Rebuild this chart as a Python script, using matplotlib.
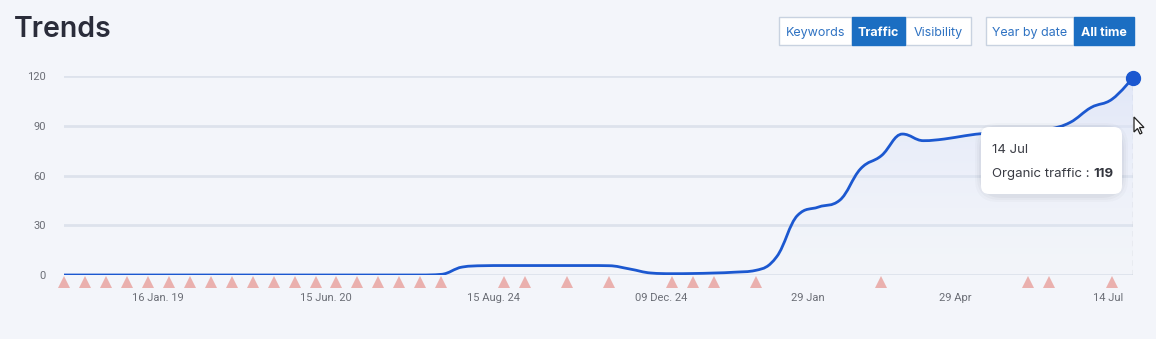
import numpy as np
import matplotlib.pyplot as plt
from matplotlib.path import Path
from matplotlib.patches import PathPatch, FancyBboxPatch, Rectangle, Polygon
from matplotlib.colors import LinearSegmentedColormap

plt.rcParams['font.family'] = ['Inter', 'DejaVu Sans']

# organic traffic, one value per point (52 points)
traffic = [0, 0, 0, 0, 0, 0, 0, 0, 0, 0, 0, 0, 0, 0, 0, 0, 0, 0,
           0.4, 4.8, 5.6, 5.7, 5.7, 5.7, 5.7, 5.7, 5.6, 3.6, 1.2, 0.8,
           0.9, 1.2, 1.7, 2.8, 11, 36, 41, 45, 64, 72, 85, 81,
           82, 84, 85.5, 86, 87, 88, 92, 101, 106, 119]
# points that carry an event marker (triangles under the axis)
event_idx = list(range(19)) + [21, 22, 24, 26, 29, 30, 31, 33, 39, 46, 47, 50]
x_tick_pos = [4.5, 12.5, 20.5, 28.5, 35.5, 42.5, 49.8]
x_tick_labels = ['16 Jan. 19', '15 Jun. 20', '15 Aug. 24', '09 Dec. 24',
                 '29 Jan', '29 Apr', '14 Jul']
y_ticks = [0, 30, 60, 90, 120]
tooltip_date = '14 Jul'
tooltip_value = 119

W, H = 1156, 339
BG = '#f3f5fa'
LINE = '#1c58d0'
GRID = '#dde2ec'
BLUE_BTN = '#1b6ec2'

fig = plt.figure(figsize=(W / 100, H / 100), dpi=100, facecolor=BG)


def fx(x):
    return x / W


def fy(y):
    return 1 - y / H


ax = fig.add_axes([fx(64), fy(275), (1133 - 64) / W, (275 - 76) / H])
ax.set_facecolor(BG)
for s in ax.spines.values():
    s.set_visible(False)

n = len(traffic)
xs = np.arange(n, dtype=float)
ys = np.array(traffic, dtype=float)
ax.set_xlim(0, n - 1)
ax.set_ylim(0, 120)


# spline path (highcharts style)
def spline_path(x, y, smoothing=1.5):
    denom = smoothing + 1
    lc = [(x[0], y[0])]
    rc = [(x[0], y[0])]
    for i in range(1, len(x) - 1):
        lx = (smoothing * x[i] + x[i - 1]) / denom
        ly = (smoothing * y[i] + y[i - 1]) / denom
        rx = (smoothing * x[i] + x[i + 1]) / denom
        ry = (smoothing * y[i] + y[i + 1]) / denom
        corr = (ry - ly) * (rx - x[i]) / (rx - lx) + y[i] - ry
        ly += corr
        ry += corr
        if ly > y[i - 1] and ly > y[i]:
            ly = max(y[i - 1], y[i]); ry = 2 * y[i] - ly
        elif ly < y[i - 1] and ly < y[i]:
            ly = min(y[i - 1], y[i]); ry = 2 * y[i] - ly
        if ry > y[i + 1] and ry > y[i]:
            ry = max(y[i + 1], y[i]); ly = 2 * y[i] - ry
        elif ry < y[i + 1] and ry < y[i]:
            ry = min(y[i + 1], y[i]); ly = 2 * y[i] - ry
        lc.append((lx, ly))
        rc.append((rx, ry))
    lc.append((x[-1], y[-1]))
    rc.append((x[-1], y[-1]))
    verts = [(x[0], y[0])]
    codes = [Path.MOVETO]
    for i in range(1, len(x)):
        verts += [rc[i - 1], lc[i], (x[i], y[i])]
        codes += [Path.CURVE4] * 3
    return verts, codes


verts, codes = spline_path(xs, ys)

for yt in y_ticks:
    ax.axhline(yt, color=GRID, lw=2, zorder=0.5)

# area fill with a vertical gradient
fill_verts = verts + [(xs[-1], 0), (xs[0], 0), (xs[0], ys[0])]
fill_codes = codes + [Path.LINETO, Path.LINETO, Path.CLOSEPOLY]
fill_patch = PathPatch(Path(fill_verts, fill_codes), facecolor='none',
                       edgecolor='none')
ax.add_patch(fill_patch)
grad_cmap = LinearSegmentedColormap.from_list('g', [(0.91, 0.93, 0.98, 0.0),
                                                    (0.86, 0.89, 0.97, 0.75)])
grad = np.linspace(0, 1, 256).reshape(-1, 1)
im = ax.imshow(grad, cmap=grad_cmap, aspect='auto', origin='lower',
               extent=[0, n - 1, 0, 120], zorder=1, interpolation='bilinear')
im.set_clip_path(fill_patch)

ax.add_patch(PathPatch(Path(verts, codes), facecolor='none', edgecolor=LINE,
                       lw=2, zorder=3, capstyle='round'))

# crosshair + hovered point
ax.axvline(xs[-1], color='#c4c8d0', lw=1, ls=(0, (4, 3)), zorder=2)
ax.plot([xs[-1]], [ys[-1]], 'o', color=LINE, ms=10, zorder=4, clip_on=False)

# event triangles
ax.plot(xs[event_idx], np.full(len(event_idx), -4.0), '^', color='#eab0ae',
        ms=8.5, mew=0, clip_on=False, zorder=2)

ax.set_yticks(y_ticks)
ax.set_yticklabels([str(v) for v in y_ticks])
ax.set_xticks(x_tick_pos)
ax.set_xticklabels(x_tick_labels)
ax.tick_params(axis='y', length=0, pad=13, labelsize=8, labelcolor='#6b6e76')
ax.tick_params(axis='x', length=0, pad=13, labelsize=8, labelcolor='#6b6e76')
for lab in ax.get_yticklabels() + ax.get_xticklabels():
    lab.set_fontfamily(['Roboto', 'DejaVu Sans'])

# title
fig.text(fx(14), fy(37), 'Trends', fontsize=20.5, fontweight='semibold',
         color='#2a2c3a', va='baseline', ha='left')


# button groups
def button(x0, x1, label, active):
    y0, y1 = 17, 45
    fig.patches.append(Rectangle((fx(x0), fy(y1)), (x1 - x0) / W, (y1 - y0) / H,
                                 transform=fig.transFigure,
                                 facecolor=BLUE_BTN if active else 'white',
                                 edgecolor=BLUE_BTN if active else '#c8d2e0',
                                 lw=1))
    fig.text(fx((x0 + x1) / 2), fy(36), label, ha='center', va='baseline',
             fontsize=9, color='white' if active else '#2e72c2',
             fontweight='bold' if active else 'normal')


button(779, 852, 'Keywords', False)
button(905, 971, 'Visibility', False)
button(852, 905, 'Traffic', True)
button(986, 1074, 'Year by date', False)
button(1074, 1134, 'All time', True)

# tooltip with soft shadow
tx0, ty0, tx1, ty1 = 981, 127, 1122, 194
for k, a in [(6, 0.03), (4, 0.04), (2, 0.05)]:
    fig.patches.append(FancyBboxPatch((fx(tx0 - k), fy(ty1 + k + 2)),
                                      (tx1 - tx0 + 2 * k) / W, (ty1 - ty0 + 2 * k) / H,
                                      boxstyle='round,pad=0,rounding_size=0.02',
                                      mutation_aspect=W / H,
                                      transform=fig.transFigure, facecolor='#50586a',
                                      edgecolor='none', alpha=a, zorder=5))
fig.patches.append(FancyBboxPatch((fx(tx0), fy(ty1)), (tx1 - tx0) / W, (ty1 - ty0) / H,
                                  boxstyle='round,pad=0,rounding_size=0.007',
                                  mutation_aspect=W / H,
                                  transform=fig.transFigure, facecolor='white',
                                  edgecolor='none', zorder=6))
fig.text(fx(992), fy(153), tooltip_date, fontsize=9.5, color='#3a3c44',
         va='baseline', ha='left', zorder=7)
t1 = fig.text(fx(992), fy(177), 'Organic traffic : ', fontsize=9.5,
              color='#3a3c44', va='baseline', ha='left', zorder=7)
fig.canvas.draw()
bb = t1.get_window_extent()
fig.text(bb.x1 / W, fy(177), str(tooltip_value), fontsize=9.5,
         color='#33353d', fontweight='bold', va='baseline', ha='left', zorder=7)

# mouse cursor
cur = [(0, 0), (0, 15), (3.5, 11.5), (6, 17), (8, 16), (5.5, 10.5), (10, 10.5)]
cx, cy = 1134, 117
fig.patches.append(Polygon([(fx(cx + a), fy(cy + b)) for a, b in cur], closed=True,
                           transform=fig.transFigure, facecolor='white',
                           edgecolor='#222222', lw=0.9, zorder=8))

fig.savefig('out.png', dpi=100, facecolor=BG)
